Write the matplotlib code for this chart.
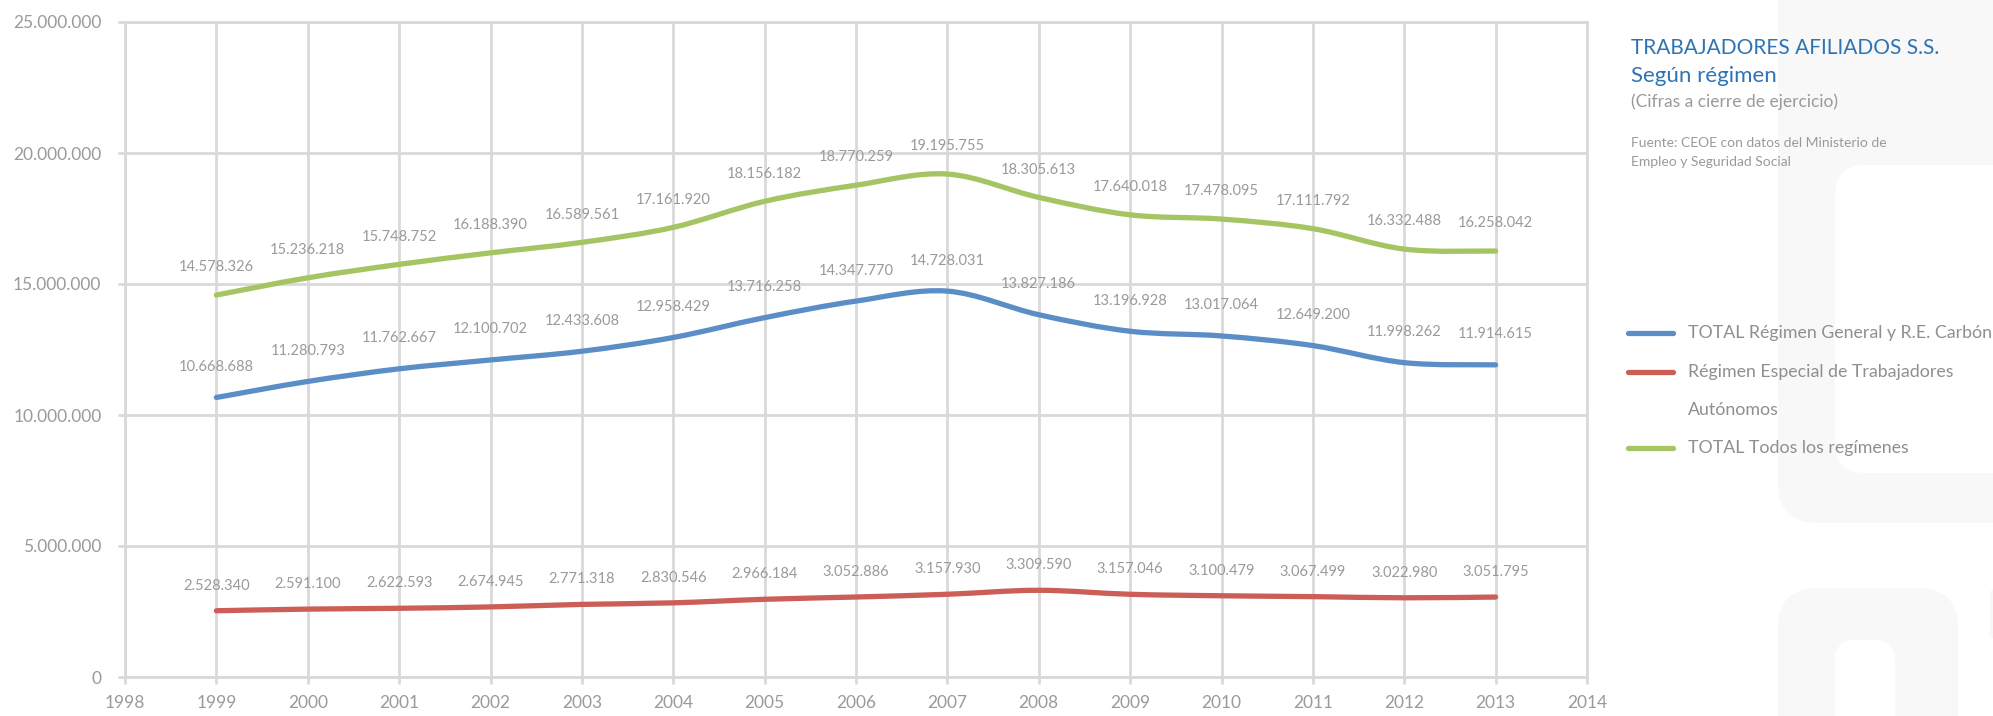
import numpy as np
import matplotlib
matplotlib.use('Agg')
from matplotlib import pyplot as plt
from matplotlib.path import Path
from matplotlib.patches import PathPatch, FancyBboxPatch
from matplotlib.lines import Line2D
from matplotlib.ticker import FuncFormatter

# datos (cifras a cierre de ejercicio)
years = [1999, 2000, 2001, 2002, 2003, 2004, 2005, 2006, 2007, 2008, 2009, 2010, 2011, 2012, 2013]
general = [10668688, 11280793, 11762667, 12100702, 12433608, 12958429, 13716258, 14347770,
           14728031, 13827186, 13196928, 13017064, 12649200, 11998262, 11914615]
autonomos = [2528340, 2591100, 2622593, 2674945, 2771318, 2830546, 2966184, 3052886,
             3157930, 3309590, 3157046, 3100479, 3067499, 3022980, 3051795]
todos = [14578326, 15236218, 15748752, 16188390, 16589561, 17161920, 18156182, 18770259,
         19195755, 18305613, 17640018, 17478095, 17111792, 16332488, 16258042]
labels = ['TOTAL Régimen General y R.E. Carbón',
          'Régimen Especial de Trabajadores',
          'Autónomos',
          'TOTAL Todos los regímenes']

BLUE, RED, GREEN = '#5b8ec7', '#cc5e57', '#a5c463'
GRID = '#d9d9d9'
GREY = '#9a9a9a'
FONT = 'Lato'
plt.rcParams['font.family'] = [FONT, 'DejaVu Sans']

W, H, DPI = 1993, 716, 100


def smooth_path(x, y):
  # curva suavizada tipo Excel (Catmull-Rom -> Bezier)
  p = np.column_stack([x, y]).astype(float)
  ext = np.vstack([p[0], p, p[-1]])
  verts, codes = [p[0]], [Path.MOVETO]
  for i in range(len(p) - 1):
    p0, p1, p2, p3 = ext[i], ext[i + 1], ext[i + 2], ext[i + 3]
    verts += [p1 + (p2 - p0) / 6.0, p2 - (p3 - p1) / 6.0, p2]
    codes += [Path.CURVE4] * 3
  return Path(verts, codes)


def px(x, y):
  return x / W, 1 - y / H


fig = plt.figure(figsize=(W / DPI, H / DPI), dpi=DPI)

# fondo: formas del logo muy claras
bg = fig.add_axes([0, 0, 1, 1], zorder=-5)
bg.set_xlim(0, W)
bg.set_ylim(H, 0)
bg.axis('off')
SH = '#f8f8f8'
for (x0, y0, x1, y1, r, c) in [(1778, -100, 2150, 523, 40, SH),
                               (1835, 165, 2150, 473, 30, 'white'),
                               (1778, 588, 1958, 820, 40, SH),
                               (1835, 640, 1895, 820, 20, 'white'),
                               (1990, 589, 2050, 639, 5, SH)]:
  bg.add_patch(FancyBboxPatch((x0 + r, y0 + r), x1 - x0 - 2 * r, y1 - y0 - 2 * r,
                              boxstyle='round,pad=%d' % r, fc=c, ec='none'))

l, b = px(125, 677)
r_, t = px(1587, 22)
ax = fig.add_axes([l, b, r_ - l, t - b])
ax.set_facecolor('none')
ax.set_xlim(1998, 2014)
ax.set_ylim(0, 25000000)
ax.set_xticks(range(1998, 2015))
ax.set_yticks(range(0, 25000001, 5000000))
ax.yaxis.set_major_formatter(FuncFormatter(lambda v, p: '{:,.0f}'.format(v).replace(',', '.')))
ax.grid(True, color=GRID, lw=2)
ax.set_axisbelow(True)
for s in ax.spines.values():
  s.set_color(GRID)
  s.set_linewidth(2)
ax.tick_params(axis='both', colors=GRID, length=5, width=2, labelcolor=GREY, labelsize=12.5)
ax.tick_params(axis='x', pad=8)
ax.tick_params(axis='y', pad=12)

for vals, col, off in [(autonomos, RED, 18), (general, BLUE, 22), (todos, GREEN, 20)]:
  ax.add_patch(PathPatch(smooth_path(years, vals), fill=False, ec=col, lw=3.8,
                         capstyle='round', joinstyle='round', zorder=3))
  for xv, yv in zip(years, vals):
    ax.annotate('{:,}'.format(yv).replace(',', '.'), (xv, yv), xytext=(0, off),
                textcoords='offset points', ha='center', va='center',
                fontsize=10.5, color=GREY)

# título y fuente
fig.text(*px(1631, 54), 'TRABAJADORES AFILIADOS S.S.', color='#2e74b5', fontsize=15, va='baseline')
fig.text(*px(1631, 82), 'Según régimen', color='#2e74b5', fontsize=16, va='baseline')
fig.text(*px(1631, 107), '(Cifras a cierre de ejercicio)', color=GREY, fontsize=12.5, va='baseline')
fig.text(*px(1631, 147), 'Fuente: CEOE con datos del Ministerio de', color=GREY, fontsize=10, va='baseline')
fig.text(*px(1631, 166), 'Empleo y Seguridad Social', color=GREY, fontsize=10, va='baseline')

# leyenda manual
for yy, col, lab in [(333, BLUE, labels[0]), (372, RED, labels[1]), (410, None, labels[2]),
                     (448, GREEN, labels[3])]:
  if col:
    xa, ya = px(1628, yy)
    xb, _ = px(1673, yy)
    fig.add_artist(Line2D([xa, xb], [ya, ya], color=col, lw=3.8, solid_capstyle='round'))
  fig.text(*px(1688, yy), lab, color='#8f8f8f', fontsize=12.8, va='center')

fig.savefig('out.png', dpi=DPI, facecolor='white')
